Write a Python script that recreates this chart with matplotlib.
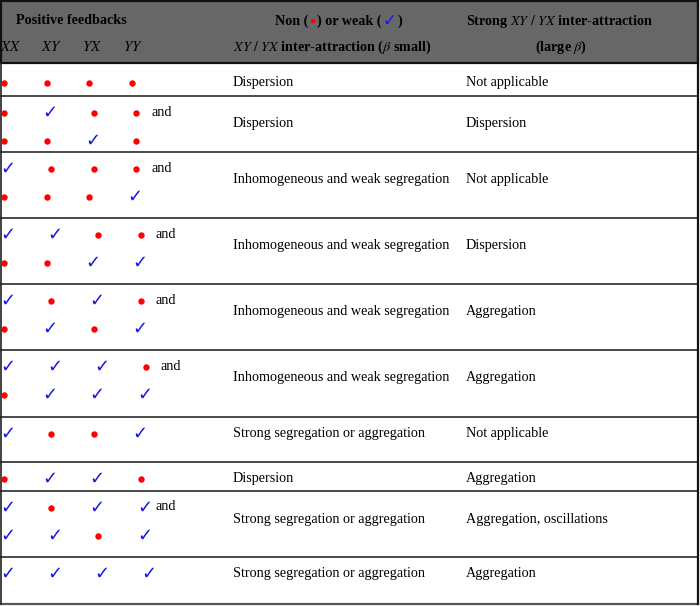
import matplotlib
matplotlib.use('Agg')
import matplotlib.pyplot as plt

plt.rcParams['font.family'] = ['Liberation Serif', 'DejaVu Sans']
plt.rcParams['mathtext.fontset'] = 'stix'

# Таблица: d = нет обратной связи (красная точка), c = слабая (синяя галочка)
patterns = [
    ['dddd'],
    ['dcdd', 'ddcd'],
    ['cddd', 'dddc'],
    ['ccdd', 'ddcc'],
    ['cdcd', 'dcdc'],
    ['cccd', 'dccc'],
    ['cddc'],
    ['dccd'],
    ['cdcc', 'ccdc'],
    ['cccc'],
]
small_beta = [
    'Dispersion',
    'Dispersion',
    'Inhomogeneous and weak segregation',
    'Inhomogeneous and weak segregation',
    'Inhomogeneous and weak segregation',
    'Inhomogeneous and weak segregation',
    'Strong segregation or aggregation',
    'Dispersion',
    'Strong segregation or aggregation',
    'Strong segregation or aggregation',
]
large_beta = [
    'Not applicable',
    'Dispersion',
    'Not applicable',
    'Dispersion',
    'Aggregation',
    'Aggregation',
    'Not applicable',
    'Aggregation',
    'Aggregation, oscillations',
    'Aggregation',
]
feedback_labels = ['$XX$', '$XY$', '$YX$', '$YY$']

# границы строк (в пикселях)
row_edges = [63, 96, 152, 218, 284, 350, 417, 462, 491, 557, 604]

RED = '#ff0000'
BLUE = '#1414e6'
FS = 10.2

fig = plt.figure(figsize=(7, 6.06), dpi=100)
ax = fig.add_axes([0, 0, 1, 1])
ax.set_xlim(0, 700)
ax.set_ylim(606, 0)
ax.axis('off')

# шапка
ax.add_patch(plt.Rectangle((0.5, 1), 697.5, 62, facecolor='#676767',
                           edgecolor='#111111', lw=1.6, zorder=1))
ax.text(16, 21, 'Positive feedbacks', fontsize=FS, fontweight='bold', va='center')
for i, lab in enumerate(feedback_labels):
    ax.text(0 + 41 * i, 47, lab, fontsize=FS + 0.5, va='center')
ax.text(233, 47, r'$XY$ / $YX$ inter-attraction ($\beta$ small)', fontsize=FS,
        fontweight='bold', va='center')
ax.text(466, 21, r'Strong $XY$ / $YX$ inter-attraction', fontsize=FS,
        fontweight='bold', va='center')
ax.text(561, 47, r'(large $\beta$)', fontsize=FS, fontweight='bold',
        va='center', ha='center')

# "Non (•) or weak (✓)" по кусочкам
fig.canvas.draw()
renderer = fig.canvas.get_renderer()
pieces = [('Non (', 'black', {}), ('●', RED, {'fontsize': 7.5}),
          (') or weak (', 'black', {}),
          ('✓', BLUE, {'family': 'DejaVu Sans', 'fontsize': 12}),
          (')', 'black', {})]
xpos = 275
for s, col, kw in pieces:
    kwargs = dict(fontsize=FS, fontweight='bold', va='center', color=col)
    kwargs.update(kw)
    t = ax.text(xpos, 21, s, **kwargs)
    bb = t.get_window_extent(renderer)
    xpos += bb.width + 1

# строки таблицы
for r, lines in enumerate(patterns):
    top = row_edges[r] + (3 if r == 0 else 0)
    for k, line in enumerate(lines):
        y = top + 16.5 + 28 * k
        nchk = 0
        last_x = 0
        for i, s in enumerate(line):
            x = 4 + 42.5 * i + 4.7 * nchk
            if s == 'd':
                ax.plot(x, y, 'o', color=RED, ms=4.6, mec='none', zorder=3)
            else:
                ax.text(x - 4, y, '✓', color=BLUE, fontsize=13,
                        family='DejaVu Sans', va='center', ha='left', zorder=3)
                nchk += 1
            last_x = x
        if len(lines) > 1 and k == 0:
            ax.text(last_x + 15, y - 0.5, 'and', fontsize=FS, va='center')
    ymid = top + (28 if len(lines) > 1 else 16.5)
    ax.text(233, ymid, small_beta[r], fontsize=FS, va='center')
    ax.text(466, ymid, large_beta[r], fontsize=FS, va='center')

for y in row_edges[1:-1]:
    ax.plot([0, 698], [y, y], color='#2a2a2a', lw=1.2, zorder=2)
ax.plot([0, 698], [row_edges[-1], row_edges[-1]], color='#555555', lw=1.6)
ax.plot([1, 1], [63, 604], color='#222222', lw=1.2)
ax.plot([698, 698], [1, 604], color='#111111', lw=1.6)

fig.savefig('out.png', dpi=100)
